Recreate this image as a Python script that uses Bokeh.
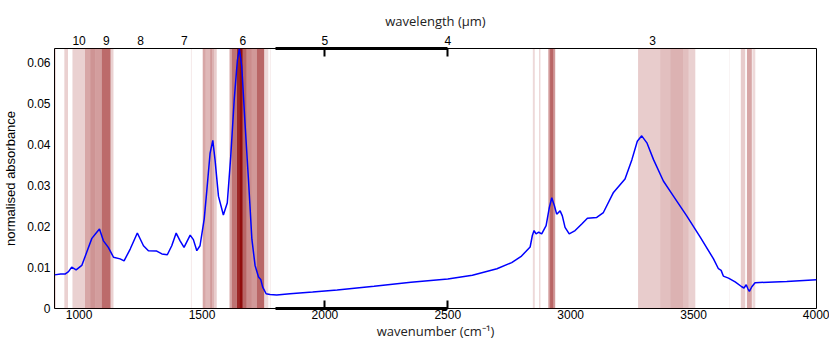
from bokeh.plotting import figure
from bokeh.models import LinearAxis, FixedTicker, Range1d, ColumnDataSource, CustomLabelingPolicy
from bokeh.embed import file_html
from bokeh.resources import INLINE

# ---- data ----
wavenumber = [900, 925, 943, 957, 970, 988, 1011, 1031, 1052, 1072, 1083, 1099, 1119, 1140,
              1167, 1183, 1208, 1237, 1262, 1282, 1316, 1337, 1359, 1377, 1395, 1411, 1427,
              1452, 1465, 1479, 1492, 1509, 1520, 1533, 1544, 1553, 1567, 1587, 1603, 1617,
              1631, 1644, 1652, 1662, 1675, 1689, 1703, 1716, 1730, 1739, 1747, 1761, 1777,
              1804, 1858, 1950, 2050, 2200, 2350, 2500, 2600, 2700, 2760, 2800, 2835, 2844,
              2851, 2859, 2870, 2882, 2900, 2913, 2923, 2934, 2943, 2957, 2966, 2977, 2994,
              3018, 3045, 3068, 3106, 3133, 3174, 3221, 3249, 3271, 3289, 3310, 3337, 3377,
              3418, 3472, 3527, 3581, 3601, 3612, 3621, 3642, 3669, 3696, 3705, 3714, 3721,
              3727, 3737, 3750, 3879, 4000]
absorbance = [0.0082, 0.0084, 0.0084, 0.0090, 0.0101, 0.0094, 0.0105, 0.0137, 0.0171, 0.0186,
              0.0194, 0.0165, 0.0149, 0.0125, 0.0121, 0.0116, 0.0145, 0.0184, 0.0153, 0.0141,
              0.0140, 0.0133, 0.0131, 0.0153, 0.0184, 0.0165, 0.0149, 0.0179, 0.0168, 0.0141,
              0.0153, 0.0218, 0.0290, 0.0379, 0.0410, 0.0363, 0.0274, 0.0228, 0.0258, 0.0371,
              0.0508, 0.0605, 0.0634, 0.0589, 0.0452, 0.0315, 0.0169, 0.0105, 0.0077, 0.0071,
              0.0052, 0.0036, 0.0034, 0.0033, 0.0036, 0.0040, 0.0045, 0.0054, 0.0064, 0.0072,
              0.0081, 0.0097, 0.0112, 0.0128, 0.0150, 0.0178, 0.0190, 0.0182, 0.0186, 0.0182,
              0.0202, 0.0246, 0.0270, 0.0250, 0.0230, 0.0238, 0.0226, 0.0198, 0.0182, 0.0190,
              0.0206, 0.0220, 0.0222, 0.0234, 0.0283, 0.0316, 0.0363, 0.0408, 0.0421, 0.0404,
              0.0363, 0.0311, 0.0274, 0.0226, 0.0174, 0.0121, 0.0097, 0.0093, 0.0079, 0.0074,
              0.0065, 0.0053, 0.0050, 0.0058, 0.0048, 0.0042, 0.0053, 0.0063, 0.0066, 0.0070]

band_left = [900, 940, 973, 1024, 1045, 1065, 1092, 1128, 1455, 1503, 1515, 1533, 1541, 1549,
             1612, 1621, 1642, 1651, 1666, 1682, 1703, 1723, 1753, 1776, 2846, 2871, 2909,
             2916, 2930, 3274, 3364, 3405, 3457, 3480, 3645, 3692, 3717, 3739]
band_right = [906, 955, 1024, 1045, 1065, 1092, 1128, 1140, 1458, 1515, 1533, 1541, 1549, 1560,
              1621, 1642, 1651, 1666, 1682, 1703, 1723, 1753, 1770, 1779, 2854, 2877, 2916,
              2930, 2937, 3364, 3405, 3457, 3480, 3507, 3648, 3710, 3737, 3751]
band_strength = [0.15, 0.18, 0.18, 0.35, 0.42, 0.38, 0.58, 0.18, 0.12, 0.35, 0.28, 0.40, 0.30,
                 0.20, 0.35, 0.55, 0.85, 0.95, 0.60, 0.45, 0.40, 0.60, 0.15, 0.12, 0.15, 0.15,
                 0.40, 0.60, 0.40, 0.20, 0.25, 0.30, 0.25, 0.18, 0.06, 0.20, 0.35, 0.15]

wn_ticks = [1000, 1500, 2000, 2500, 3000, 3500, 4000]
y_ticks = [0, 0.01, 0.02, 0.03, 0.04, 0.05, 0.06]
y_tick_labels = ["0", "0.01", "0.02", "0.03", "0.04", "0.05", "0.06"]
wavelength_ticks = [10, 9, 8, 7, 6, 5, 4, 3]
axis_bar_ticks = [2000, 2500]
axis_bar_bounds = (1800, 2500)

X_MIN, X_MAX = 900, 4000
Y_MIN, Y_MAX = 0, 0.0634

AX_FONT = "Liberation Sans"
LBL_FONT = "Open Sans"

p = figure(width=829, height=342, x_range=Range1d(X_MIN, X_MAX), y_range=Range1d(Y_MIN, Y_MAX),
           output_backend="svg", toolbar_location=None,
           x_axis_location=None, y_axis_location=None,
           min_border_left=54, min_border_right=13, min_border_top=48, min_border_bottom=32)
p.grid.visible = False
p.outline_line_color = "black"
p.outline_line_width = 1
p.background_fill_color = "white"
p.border_fill_color = "white"

bands = ColumnDataSource(dict(left=band_left, right=band_right, a=band_strength))
p.quad(left="left", right="right", bottom=Y_MIN, top=Y_MAX, source=bands,
       fill_color="#8b0000", fill_alpha="a", line_color=None)

p.line(wavenumber, absorbance, line_color="#0000ff", line_width=1.5)

# left axis
yax = LinearAxis(ticker=FixedTicker(ticks=y_ticks),
                 major_label_overrides={t: s for t, s in zip(y_ticks, y_tick_labels)},
                 axis_label="normalised absorbance", axis_line_color=None,
                 major_tick_in=0, major_tick_out=0, minor_tick_in=0, minor_tick_out=0,
                 major_label_standoff=4, axis_label_standoff=6,
                 major_label_text_font=AX_FONT, major_label_text_font_size="12px",
                 major_label_text_color="black",
                 axis_label_text_font=AX_FONT, axis_label_text_font_size="13px",
                 axis_label_text_font_style="normal", axis_label_text_color="black")
p.add_layout(yax, "left")


def bar_axis():
    return LinearAxis(ticker=FixedTicker(ticks=axis_bar_ticks), bounds=axis_bar_bounds,
                      axis_line_width=3, axis_line_color="black",
                      major_tick_in=8, major_tick_out=0, major_tick_line_width=2,
                      minor_tick_in=0, minor_tick_out=0,
                      major_label_policy=CustomLabelingPolicy(code="return []"),
                      major_label_text_font_size="0px",
                      major_label_standoff=0)


# bottom: thick bar segment then labelled axis
p.add_layout(bar_axis(), "below")
xax = LinearAxis(ticker=FixedTicker(ticks=wn_ticks), axis_line_color=None,
                 major_tick_in=0, major_tick_out=0, minor_tick_in=0, minor_tick_out=0,
                 major_label_standoff=1, axis_label="wavenumber (cm⁻¹)", axis_label_standoff=0,
                 major_label_text_font=AX_FONT, major_label_text_font_size="12px",
                 major_label_text_color="black",
                 axis_label_text_font=LBL_FONT, axis_label_text_font_size="13px",
                 axis_label_text_font_style="normal", axis_label_text_color="#222222")
p.add_layout(xax, "below")

# top: thick bar segment then wavelength axis
p.add_layout(bar_axis(), "above")
wl_pos = [1e4 / w for w in wavelength_ticks]
tax = LinearAxis(ticker=FixedTicker(ticks=wl_pos),
                 major_label_overrides={pos: str(w) for pos, w in zip(wl_pos, wavelength_ticks)},
                 axis_line_color=None,
                 major_tick_in=0, major_tick_out=0, minor_tick_in=0, minor_tick_out=0,
                 major_label_standoff=4, axis_label="wavelength (µm)", axis_label_standoff=3,
                 major_label_text_font=AX_FONT, major_label_text_font_size="12px",
                 major_label_text_color="black",
                 axis_label_text_font=LBL_FONT, axis_label_text_font_size="13px",
                 axis_label_text_font_style="normal", axis_label_text_color="#222222")
p.add_layout(tax, "above")

open("out.html", "w").write(file_html(p, INLINE))
